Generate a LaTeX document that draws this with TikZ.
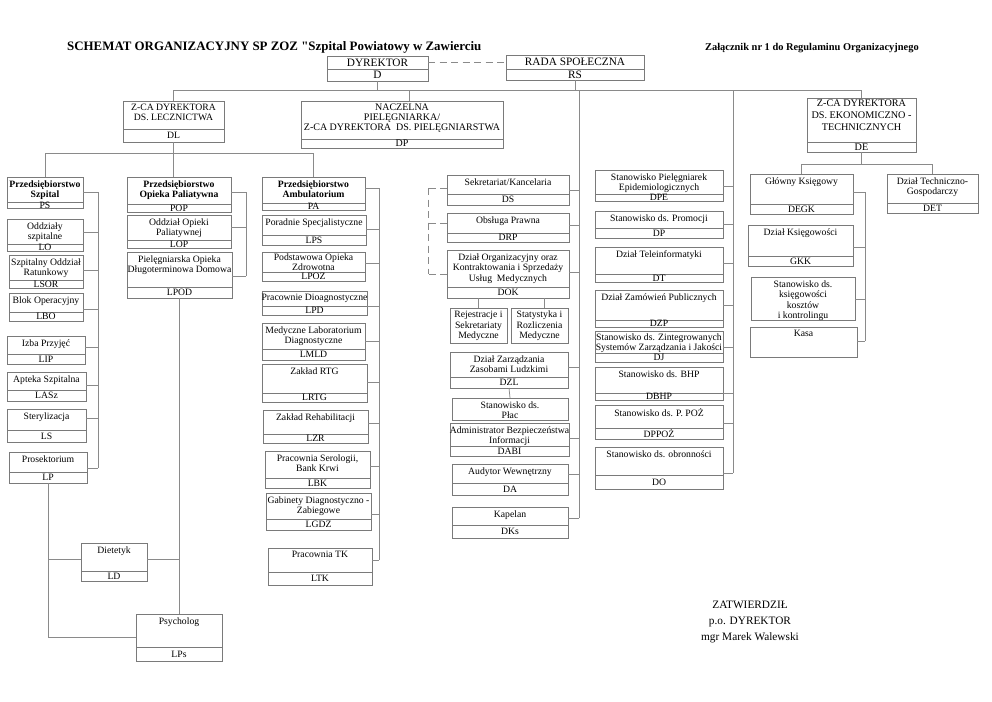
\documentclass[tikz,border=0pt]{standalone}
\usepackage{fontspec}
\setmainfont{Liberation Serif}
\newfontfamily\qfont{Liberation Serif}[Ligatures=TeXOff]
\usetikzlibrary{calc}
\definecolor{lc}{HTML}{8A8A8A}
\definecolor{bc}{HTML}{7A7A7A}
\newcommand\bxfont{\fontsize{9.7}{10.5}\selectfont}
\newcommand\tvoff{3.5pt}
% box with divider: name, x1, y1, x2, ydiv, y2, text, code
\newcommand\ob[8]{%
  \node[bx, anchor=north west, minimum width={(#4-#2)*1pt}, minimum height={(#5-#3)*1pt}] (#1) at (#2,#3) {};
  \node[bx, anchor=north west, minimum width={(#4-#2)*1pt}, minimum height={(#6-#5)*1pt}] (#1b) at (#2,#5) {};
  \node[tx, anchor=north] (#1t) at ([yshift=-\tvoff]#1.north) {#7};
  \node[tx] (#1c) at (#1b.center) {#8};
}
% box without divider: name, x1, y1, x2, y2, text
\newcommand\obn[6]{%
  \node[bx, anchor=north west, minimum width={(#4-#2)*1pt}, minimum height={(#5-#3)*1pt}] (#1) at (#2,#3) {};
  \node[tx, anchor=north] (#1t) at ([yshift=-\tvoff]#1.north) {#6};
}
% horizontal connector from east side of a box to a spine
\newcommand\hc[3]{\coordinate (hcp) at (0,#2); \draw[ln] (#1.east |- hcp) -- (#3 |- hcp);}
\newcommand\hcw[3]{\coordinate (hcp) at (0,#2); \draw[dln] (#1.west |- hcp) -- (#3 |- hcp);}
\begin{document}
\begin{tikzpicture}[x=1pt,y=-1pt,
  ln/.style={draw=lc, line width=0.75pt},
  dln/.style={draw=lc, line width=0.75pt, dash pattern=on 7pt off 4.5pt},
  bx/.style={draw=bc, line width=0.75pt, rectangle, inner sep=0pt, outer sep=0pt},
  tx/.style={inner sep=0pt, align=center, text=black, font=\bxfont},
]
\fill[white] (0,0) rectangle (992,701);
\useasboundingbox (0,0) rectangle (992,701);

% titles
\node[anchor=west, inner sep=0pt, font=\bfseries\fontsize{12.9}{14}\selectfont] (title) at (67,47) {SCHEMAT ORGANIZACYJNY SP ZOZ {\qfont\bfseries "}Szpital Powiatowy w Zawierciu};
\node[anchor=west, inner sep=0pt, font=\bfseries\fontsize{10.4}{12}\selectfont] (zal) at (705,48) {Załącznik nr 1 do Regulaminu Organizacyjnego};

% top level
\renewcommand\bxfont{\fontsize{11.3}{12}\selectfont}\renewcommand\tvoff{2.5pt}
\ob{dyr}{327}{56}{428}{69}{81}{DYREKTOR}{D}
\ob{rs}{506}{55}{644}{69}{80}{RADA SPOŁECZNA}{RS}
\renewcommand\bxfont{\fontsize{9.7}{10}\selectfont}
\ob{dl}{123}{101}{224}{129}{142}{Z-CA DYREKTORA\\DS. LECZNICTWA}{DL}
\renewcommand\bxfont{\fontsize{10}{10}\selectfont}
\ob{dp}{301}{101}{503}{139}{148}{NACZELNA\\PIELĘGNIARKA/\\Z-CA DYREKTORA\ \ DS. PIELĘGNIARSTWA}{DP}
\renewcommand\bxfont{\fontsize{10.2}{12}\selectfont}\renewcommand\tvoff{2pt}
\ob{de}{807}{98}{916}{142}{152}{Z-CA DYREKTORA\\DS. EKONOMICZNO -\\TECHNICZNYCH}{DE}

\renewcommand\bxfont{\fontsize{9.7}{10.5}\selectfont}\renewcommand\tvoff{3.2pt}
% column: Szpital
\ob{ps}{7}{177}{83}{202}{208}{\textbf{Przedsiębiorstwo}\\\textbf{Szpital}}{PS}
\ob{lo}{7}{219}{83}{244}{251}{Oddziały\\szpitalne}{LO}
\ob{lsor}{9}{255}{83}{280}{288}{Szpitalny Oddział\\Ratunkowy}{LSOR}
\ob{lbo}{9}{293}{83}{312}{321}{Blok Operacyjny}{LBO}
\ob{lip}{7}{336}{85}{354}{364}{Izba Przyjęć}{LIP}
\ob{lasz}{7}{372}{86}{390}{401}{Apteka Szpitalna}{LASz}
\ob{ls}{7}{409}{86}{430}{442}{Sterylizacja}{LS}
\ob{lp}{9}{452}{87}{472}{483}{Prosektorium}{LP}
\ob{diet}{81}{543}{147}{571}{581}{Dietetyk}{LD}
\ob{psy}{136}{614}{222}{647}{661}{Psycholog}{LPs}

% column: Opieka Paliatywna
\ob{pop}{127}{177}{231}{204}{212}{\textbf{Przedsiębiorstwo}\\\textbf{Opieka Paliatywna}}{POP}
\ob{lop}{127}{215}{231}{240}{248}{Oddział Opieki\\Paliatywnej}{LOP}
\ob{lpod}{127}{252}{232}{287}{298}{Pielęgniarska Opieka\\Długoterminowa Domowa}{LPOD}

% column: Ambulatorium
\ob{pa}{262}{177}{365}{203}{210}{\textbf{Przedsiębiorstwo}\\\textbf{Ambulatorium}}{PA}
\ob{lps}{262}{215}{366}{235}{245}{Poradnie Specjalistyczne}{LPS}
\renewcommand\tvoff{1.3pt}
\ob{lpoz}{262}{252}{365}{272}{281}{Podstawowa Opieka\\Zdrowotna}{LPOZ}
\renewcommand\tvoff{3.2pt}
\ob{lpd}{262}{291}{367}{306}{315}{Pracownie Dioagnostyczne}{LPD}
\ob{lmld}{262}{323}{365}{349}{360}{Medyczne Laboratorium\\Diagnostyczne}{LMLD}
\ob{lrtg}{262}{364}{367}{393}{402}{Zakład RTG}{LRTG}
\ob{lzr}{263}{410}{368}{434}{443}{Zakład Rehabilitacji}{LZR}
\ob{lbk}{265}{451}{370}{478}{488}{Pracownia Serologii,\\Bank Krwi}{LBK}
\ob{lgdz}{266}{493}{371}{519}{530}{Gabinety Diagnostyczno -\\Zabiegowe}{LGDZ}
\ob{ltk}{268}{548}{372}{572}{585}{Pracownia TK}{LTK}

% middle column
\ob{ds}{447}{175}{569}{194}{205}{Sekretariat/Kancelaria}{DS}
\ob{drp}{447}{213}{569}{233}{242}{Obsługa Prawna}{DRP}
\ob{dok}{447}{250}{569}{287}{298}{Dział Organizacyjny oraz\\Kontraktowania i Sprzedaży\\Usług\ \ Medycznych}{DOK}
\renewcommand\tvoff{3pt}
\obn{rej}{450}{308}{507}{343}{Rejestracje i\\Sekretariaty\\Medyczne}
\obn{stat}{511}{308}{568}{343}{Statystyka i\\Rozliczenia\\Medyczne}
\renewcommand\tvoff{3.2pt}
\ob{dzl}{450}{352}{568}{377}{388}{Dział Zarządzania\\Zasobami Ludzkimi}{DZL}
\obn{plac}{452}{398}{568}{420}{Stanowisko ds.\\Płac}
\ob{dabi}{450}{423}{569}{446}{456}{Administrator Bezpieczeństwa\\Informacji}{DABI}
\ob{da}{452}{464}{568}{483}{495}{Audytor Wewnętrzny}{DA}
\ob{dks}{452}{507}{568}{525}{538}{Kapelan}{DKs}

% right column
\ob{dpe}{595}{170}{723}{194}{201}{Stanowisko Pielęgniarek\\Epidemiologicznych}{DPE}
\ob{dpr}{595}{211}{723}{228}{238}{Stanowisko ds. Promocji}{DP}
\ob{dt}{595}{247}{723}{274}{282}{Dział Teleinformatyki}{DT}
\ob{dzp}{595}{290}{723}{320}{327}{Dział Zamówień Publicznych}{DZP}
\renewcommand\tvoff{2.3pt}
\ob{dj}{595}{331}{723}{353}{362}{Stanowisko ds. Zintegrowanych\\Systemów Zarządzania i Jakości}{DJ}
\renewcommand\tvoff{3.2pt}
\ob{dbhp}{595}{367}{723}{393}{400}{Stanowisko ds. BHP}{DBHP}
\ob{dppoz}{595}{405}{723}{428}{439}{Stanowisko ds. P. POŻ}{DPPOŻ}
\ob{do}{595}{447}{723}{475}{489}{Stanowisko ds. obronności}{DO}

% economic
\ob{degk}{750}{174}{853}{204}{214}{Główny Księgowy}{DEGK}
\ob{dtg}{887}{174}{978}{203}{213}{Dział Techniczno-\\Gospodarczy}{DET}
\ob{gkk}{748}{225}{853}{256}{266}{Dział Księgowości}{GKK}
\obn{skk}{751}{277}{855}{320}{Stanowisko ds.\\księgowości\\kosztów\\i kontrolingu}
\obn{kasa}{750}{327}{857}{357}{Kasa}

% signature
\node[inner sep=0pt, align=center, font=\fontsize{11.3}{16}\selectfont] (sig) at (750,622) {ZATWIERDZIŁ\\p.o. DYREKTOR\\mgr Marek Walewski};

% ---------------- connectors ----------------
\draw[dln] (dyr.east) -- (dyr.east -| rs.west);
\coordinate (bus) at (0,90);
\draw[ln] (dl.north) -- (dl.north |- bus) -- (de.north |- bus) -- (de.north);
\draw[ln] (dyrb.south) -- (dyrb.south |- bus);
\draw[ln] (rsb.south) -- (rsb.south |- bus);
\coordinate (dptop) at ([xshift=7pt]dp.north);
\draw[ln] (dptop) -- (dptop |- bus);

% middle spine
\coordinate (smT) at (579,90); \coordinate (smB) at (579,518);
\draw[ln] (smT) -- (smB);
\hc{ds}{190}{smT}\hc{drp}{225}{smT}\hc{dok}{272}{smT}\hc{dzl}{367}{smT}
\hc{dabi}{438}{smT}\hc{da}{474}{smT}\hc{dks}{518}{smT}
% dashed bracket
\coordinate (dbT) at (428,188); \coordinate (dbB) at (428,274);
\draw[dln] (dbT) -- (dbB);
\hcw{ds}{188}{dbT}\hcw{drp}{223}{dbT}\hcw{dok}{274}{dbT}
\draw[ln] (dokb.south -| rej.north) -- (rej.north);
\coordinate (stx) at ([xshift=5pt]stat.north);
\draw[ln] (dokb.south -| stx) -- (stx);
\draw[ln] (dzlb.south) -- (plac.north);

% right spine
\coordinate (srT) at (733,90); \coordinate (srB) at (733,473);
\draw[ln] (srT) -- (srB);
\hc{dpe}{186}{srT}\hc{dpr}{224}{srT}\hc{dt}{263}{srT}\hc{dzp}{305}{srT}
\hc{dj}{347}{srT}\hc{dbhp}{393}{srT}\hc{dppoz}{423}{srT}\hc{do}{473}{srT}

% economic branch
\coordinate (bus3) at (0,164);
\draw[ln] (deb.south) -- (deb.south |- bus3);
\draw[ln] (degk.north) -- (degk.north |- bus3) -- (dtg.north |- bus3) -- (dtg.north);
\coordinate (seT) at (865,192); \coordinate (seB) at (865,341);
\draw[ln] (seT) -- (seB);
\hc{degk}{192}{seT}\hc{gkk}{247}{seT}\hc{skk}{299}{seT}\hc{kasa}{341}{seT}

% medical branch
\coordinate (bus2) at (0,153);
\draw[ln] (dlb.south) -- (dlb.south |- pop.north);
\draw[ln] (ps.north) -- (ps.north |- bus2) -- (pa.north |- bus2) -- (pa.north);
\coordinate (spT) at (98,192); \coordinate (spB) at (98,468);
\draw[ln] (spT) -- (spB);
\hc{ps}{192}{spT}\hc{lo}{232}{spT}\hc{lsor}{270}{spT}\hc{lbo}{309}{spT}
\hc{lip}{347}{spT}\hc{lasz}{385}{spT}\hc{ls}{418}{spT}\hc{lp}{468}{spT}
\coordinate (ppT) at (246,192); \coordinate (ppB) at (246,276);
\draw[ln] (ppT) -- (ppB);
\hc{pop}{192}{ppT}\hc{lop}{227}{ppT}\hc{lpod}{276}{ppT}
\coordinate (paT) at (379,188); \coordinate (paB) at (379,560);
\draw[ln] (paT) -- (paB);
\hc{pa}{188}{paT}\hc{lps}{229}{paT}\hc{lpoz}{263}{paT}\hc{lpd}{306}{paT}
\hc{lmld}{341}{paT}\hc{lrtg}{382}{paT}\hc{lzr}{423}{paT}\hc{lbk}{466}{paT}
\hc{lgdz}{514}{paT}\hc{ltk}{560}{paT}

% lower left
\coordinate (yd) at (0,559); \coordinate (yp) at (0,637);
\draw[ln] (lpb.south) -- (lpb.south |- yp) -- (psy.west |- yp);
\draw[ln] (lpb.south |- yd) -- (diet.west |- yd);
\draw[ln] (lpodb.south) -- (lpodb.south |- psy.north);
\draw[ln] (diet.east |- yd) -- (lpodb.south |- yd);
\end{tikzpicture}
\end{document}
